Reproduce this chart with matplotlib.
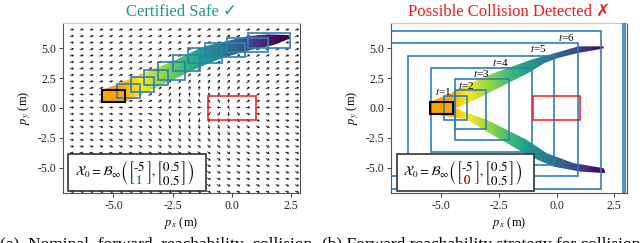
import numpy as np
import matplotlib
matplotlib.use("Agg")
import matplotlib.pyplot as plt
from matplotlib.patches import Rectangle, Polygon
from matplotlib.colors import LinearSegmentedColormap
from matplotlib.transforms import Bbox

plt.rcParams['font.family'] = ['Liberation Serif', 'DejaVu Serif']
plt.rcParams['mathtext.fontset'] = 'stix'

# ---------------- data ----------------
title_safe = "Certified Safe ✓"
title_coll = "Possible Collision Detected ✗"
caption_a = "(a)  Nominal  forward  reachability  collision"
caption_b = "(b) Forward reachability strategy for collision"

obstacle = [-1.0, 1.0, -1.0, 1.0]          # xmin, xmax, ymin, ymax
init_safe = [-5.5, -4.5, 0.5, 1.5]
init_coll = [-5.5, -4.5, -0.5, 0.5]

# (a) per-step reachable set bounds
safe_xmin = [-4.86, -4.26, -3.70, -3.11, -2.48, -1.84, -1.14, -0.22, 0.69]
safe_xmax = [-3.88, -3.28, -2.68, -1.98, -1.35, -0.43, 0.55, 1.53, 2.45]
safe_ymin = [0.81, 1.32, 1.88, 2.37, 3.06, 3.72, 4.28, 4.69, 4.97]
safe_ymax = [1.99, 2.55, 3.17, 3.83, 4.42, 5.00, 5.39, 5.81, 6.28]

# (a) sampled trajectory cloud outline
safe_up_x = [-5.5, -4.87, -4.1, -3.25, -2.5, -1.77, -1.07, -0.2, 0.69, 1.5, 2.3, 2.45]
safe_up_y = [1.5, 1.95, 2.6, 3.3, 3.9, 4.6, 5.2, 5.6, 6.0, 6.15, 6.1, 5.9]
safe_lo_x = [2.45, 1.74, 0.69, -0.37, -1.14, -1.77, -2.5, -3.25, -4.5, -5.5]
safe_lo_y = [5.8, 5.25, 4.8, 4.2, 3.6, 3.05, 2.35, 1.65, 0.5, 0.5]

# (b) per-step reachable set bounds (t=1 ... t=9)
coll_xmin = [-4.88, -4.42, -4.42, -5.43, -6.44, -9.0, -10.0, -12.0, -12.0]
coll_xmax = [-3.88, -3.07, -2.06, -1.07, -0.09, 0.94, 1.92, 2.88, 2.97]
coll_ymin = [-0.98, -1.76, -2.71, -3.66, -4.72, -5.72, -6.73, -12.0, -12.0]
coll_ymax = [1.00, 1.51, 2.43, 3.37, 4.35, 5.41, 6.41, 12.0, 12.0]
step_labels = ["1", "2", "3", "4", "5", "6"]
label_x = [-4.9, -3.9, -3.27, -2.45, -0.8, 0.43]
label_y = [1.39, 1.92, 2.85, 3.82, 4.94, 5.86]

# (b) two branches of the sampled cloud
upper_x = [-5.5, -4.55, -3.83, -3.1, -2.09, -1.08, -0.22, 0.94, 2.02, 2.05,
           1.95, 0.94, 0.07, -0.51, -1.22, -2.09, -3.1, -3.83, -4.3, -4.6, -5.5]
upper_y = [0.5, 1.26, 1.95, 2.64, 3.35, 4.05, 4.5, 5.15, 5.15, 5.0,
           4.94, 4.6, 4.18, 3.77, 2.93, 2.09, 1.1, 0.42, 0.05, 0.0, 0.0]
lower_x = [-5.5, -4.6, -4.3, -4.04, -3.03, -2.16, -1.3, -0.43, 0.72, 2.02, 2.1,
           2.09, 1.01, -0.15, -1.15, -2.16, -3.03, -3.9, -4.5, -5.5]
lower_y = [0.0, 0.0, -0.05, -0.28, -0.98, -1.82, -2.65, -3.77, -4.6, -5.02, -5.25,
           -5.44, -5.31, -4.89, -4.05, -2.93, -1.96, -0.95, -0.75, -0.5]

# closed-loop flow (quiver) grid in panel (a)
field_x = np.linspace(-6.75, 2.75, 24)
field_y = np.linspace(-7.0, 6.55, 26)
repulsion = 2.5

teal = '#1a9a92'
red = '#ee1c1c'
box_blue = '#2f7ebc'

# colour along x: orange initial set, then viridis (reversed) with time
vir = plt.get_cmap('viridis_r')
stops = [(0.0, '#ffa200'), (0.10, '#ffa500'), (0.20, vir(0.0))]
stops += [(0.20 + 0.74 * k / 7, vir(k / 7)) for k in range(1, 8)]
stops += [(1.0, vir(1.0))]
reach_cmap = LinearSegmentedColormap.from_list('reach', stops)


def fill_reach(ax, xs, ys):
    patch = Polygon(np.column_stack([xs, ys]), closed=True, fc='none', ec='none')
    ax.add_patch(patch)
    ramp = np.linspace(0, 1, 256)[None, :]
    im = ax.imshow(ramp, cmap=reach_cmap, extent=(-5.5, 2.5, -8, 8), aspect='auto',
                   origin='lower', interpolation='bilinear', zorder=2)
    im.set_clip_path(patch)


def draw_box(ax, b, **kw):
    ax.add_patch(Rectangle((b[0], b[2]), b[1] - b[0], b[3] - b[2], fill=False, **kw))


def style_axes(ax, xlim):
    ax.set_xlim(*xlim)
    ax.set_ylim(-7.1, 7.1)
    ax.set_xticks([-5.0, -2.5, 0.0, 2.5])
    ax.set_yticks([-5.0, -2.5, 0.0, 2.5, 5.0])
    ax.xaxis.set_major_formatter(matplotlib.ticker.FormatStrFormatter('%.1f'))
    ax.yaxis.set_major_formatter(matplotlib.ticker.FormatStrFormatter('%.1f'))
    ax.tick_params(direction='out', length=3, width=0.6, pad=2, labelsize=8.5, colors='#222')
    for s in ['left', 'bottom', 'right']:
        ax.spines[s].set_color('#555')
        ax.spines[s].set_linewidth(0.8)
    ax.spines['top'].set_color('#c8c8c8')
    ax.spines['top'].set_linewidth(0.8)
    ax.set_xlabel(r'$p_x$ (m)', fontsize=9, labelpad=2)
    ax.set_ylabel(r'$p_y$ (m)', fontsize=9, labelpad=3)


def formula_box(ax, digit, color, x_text):
    ax.add_patch(Rectangle((x_text - 0.028, 0.012), 0.581, 0.218, transform=ax.transAxes,
                           fc='white', ec='#333', lw=1.2, zorder=5))
    expr = (r'$\mathcal{X}_0 = \mathcal{B}_\infty\left(\genfrac{[}{]}{0}{0}{\text{-}5}{%s},'
            r'\genfrac{[}{]}{0}{0}{0.5}{0.5}\right)$' % digit)
    head = (r'$\mathcal{X}_0 = \mathcal{B}_\infty\left(\genfrac{[}{]}{0}{0}{\text{-}5}{%s}\right.$' % digit)
    mat = r'$\genfrac{[}{]}{0}{0}{\text{-}5}{%s}$' % digit
    kw = dict(transform=ax.transAxes, ha='left', va='center', fontsize=9.4, zorder=6)
    t = ax.text(x_text, 0.121, expr, **kw)
    th = ax.text(x_text, 0.121, head, alpha=0, **kw)
    tm = ax.text(x_text, 0.121, mat, alpha=0, **kw)
    fig.canvas.draw()
    r = fig.canvas.get_renderer()
    bb = t.get_window_extent(r)
    hb = th.get_window_extent(r)
    mb = tm.get_window_extent(r)
    th.remove()
    tm.remove()
    cx = hb.x1 - mb.width / 2
    clip = Bbox.from_extents(cx - 0.3 * mb.width, bb.y0 - 2, cx + 0.3 * mb.width,
                             (bb.y0 + bb.y1) / 2 - 0.5)
    ct = ax.text(x_text, 0.121, expr, color=color, **kw)
    ct.set_clip_on(True)
    ct.set_clip_box(clip)


fig = plt.figure(figsize=(6.4, 2.43), dpi=100)
ax_l = fig.add_axes([63 / 640, 50 / 243, 237 / 640, 170 / 243])
ax_r = fig.add_axes([391 / 640, 50 / 243, 236 / 640, 170 / 243])

# ---------------- (a) certified safe ----------------
FX, FY = np.meshgrid(field_x, field_y)
r2 = np.maximum(FX ** 2 + FY ** 2, 0.3)
U = 1 + repulsion * FX / r2
V = repulsion * FY / r2
nrm = np.hypot(U, V) + 1e-9
ax_l.quiver(FX, FY, U / nrm, V / nrm, pivot='mid', color='#111', scale=55,
            scale_units='width', width=0.0035, headwidth=3.5, headlength=3.0,
            headaxislength=2.6, zorder=1)

fill_reach(ax_l, init_safe[:2] + init_safe[1::-1], [init_safe[2]] * 2 + [init_safe[3]] * 2)
fill_reach(ax_l, safe_up_x + safe_lo_x, safe_up_y + safe_lo_y)
for b in zip(safe_xmin, safe_xmax, safe_ymin, safe_ymax):
    draw_box(ax_l, b, ec=box_blue, lw=1.2, zorder=3)
draw_box(ax_l, init_safe, ec='k', lw=1.5, zorder=4)
draw_box(ax_l, obstacle, ec=red, lw=1.1, zorder=3)
style_axes(ax_l, (-7.13, 2.87))
ax_l.set_title(title_safe, color=teal, fontsize=12, pad=5,
               family=['Liberation Serif', 'DejaVu Sans'])

# ---------------- (b) collision detected ----------------
fill_reach(ax_r, init_coll[:2] + init_coll[1::-1], [init_coll[2]] * 2 + [init_coll[3]] * 2)
fill_reach(ax_r, upper_x, upper_y)
fill_reach(ax_r, lower_x, lower_y)
for b in zip(coll_xmin, coll_xmax, coll_ymin, coll_ymax):
    draw_box(ax_r, b, ec=box_blue, lw=1.2, zorder=3)
for s, lx, ly in zip(step_labels, label_x, label_y):
    ax_r.text(lx, ly, r'$t$=' + s, fontsize=8, ha='center', va='center', zorder=4)
draw_box(ax_r, init_coll, ec='k', lw=1.5, zorder=4)
draw_box(ax_r, obstacle, ec=red, lw=1.1, zorder=3)
style_axes(ax_r, (-7.17, 3.05))
ax_r.set_title(title_coll, color=red, fontsize=12, pad=5,
               family=['Liberation Serif', 'DejaVu Sans'])

formula_box(ax_l, '1', teal, 0.05)
formula_box(ax_r, '0', red, 0.052)

fig.text(0.0, -0.024, caption_a, fontsize=12.5, ha='left', va='baseline')
fig.text(322 / 640, -0.024, caption_b, fontsize=12.5, ha='left', va='baseline')

fig.savefig('out.png', dpi=100)
